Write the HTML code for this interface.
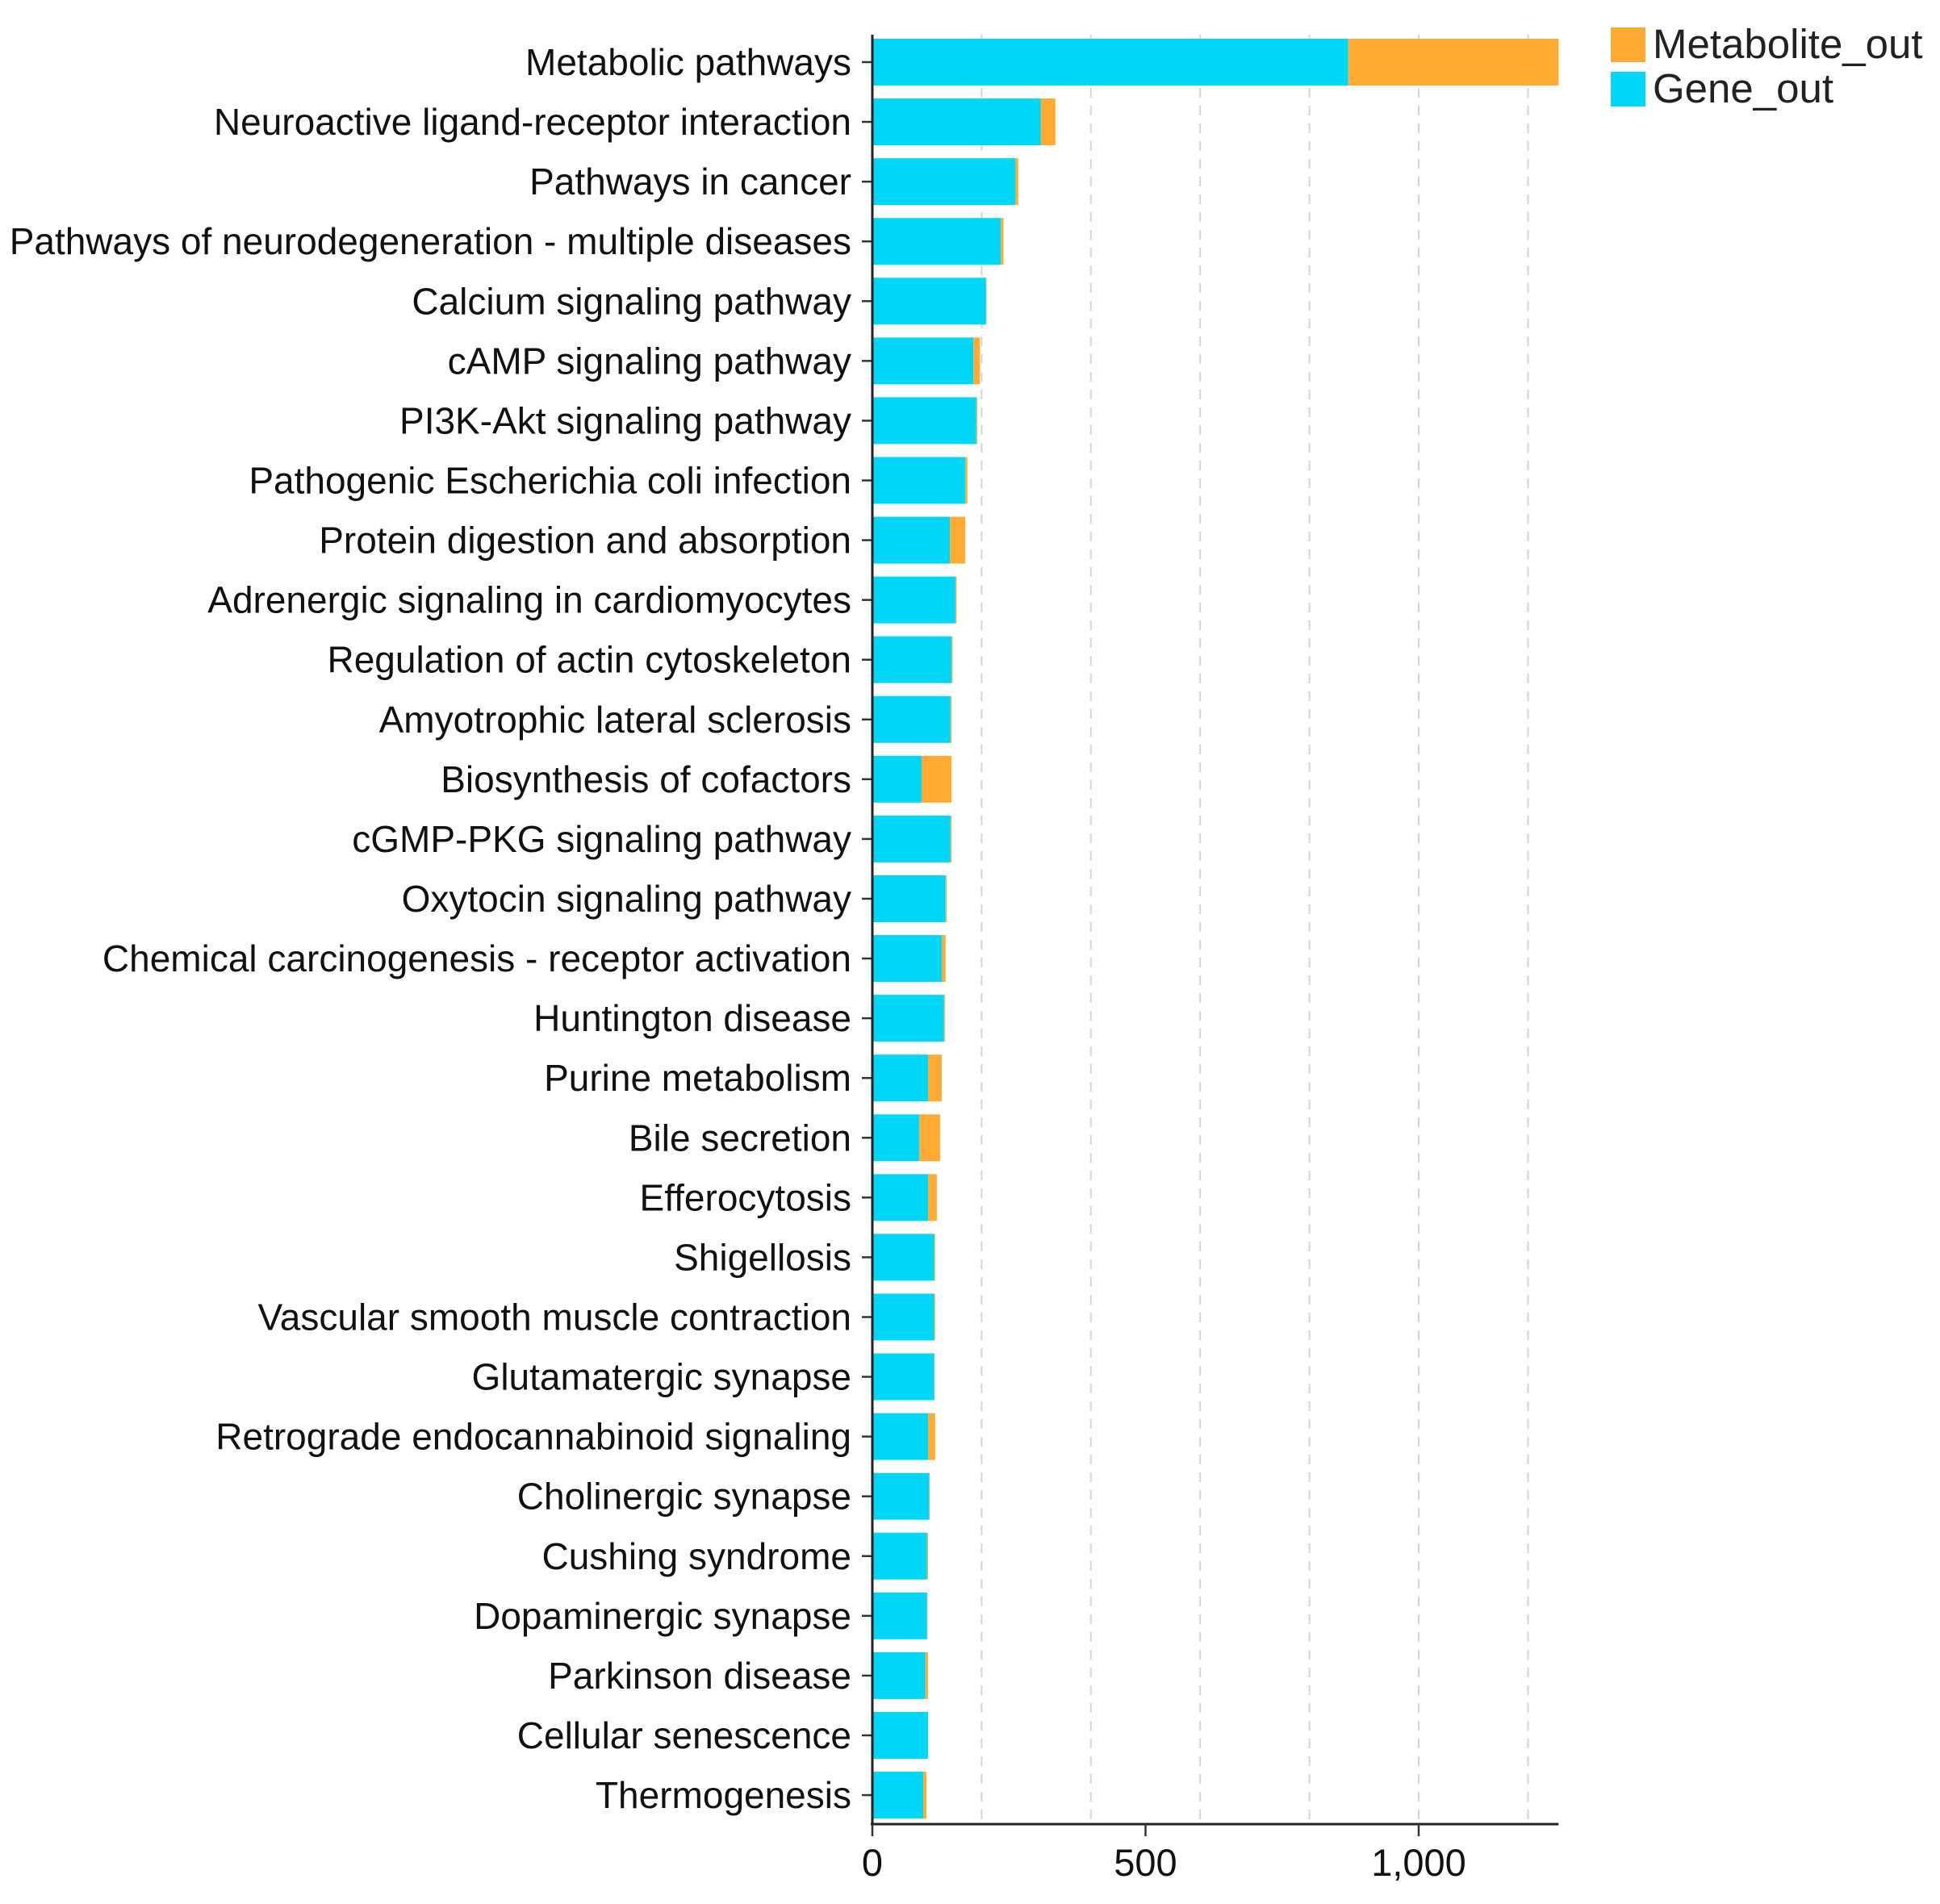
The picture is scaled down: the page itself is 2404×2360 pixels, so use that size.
<!DOCTYPE html>
<html><head><meta charset="utf-8"><style>
html,body{margin:0;padding:0;background:#fff;width:2404px;height:2360px;overflow:hidden}
svg{display:block;font-family:"Liberation Sans",Arial,sans-serif}
</style></head><body>
<svg id="chart" width="2404" height="2360" viewBox="0 0 2404 2360" xmlns="http://www.w3.org/2000/svg"></svg>
<script>
const categories = ["Metabolic pathways","Neuroactive ligand-receptor interaction","Pathways in cancer","Pathways of neurodegeneration - multiple diseases","Calcium signaling pathway","cAMP signaling pathway","PI3K-Akt signaling pathway","Pathogenic Escherichia coli infection","Protein digestion and absorption","Adrenergic signaling in cardiomyocytes","Regulation of actin cytoskeleton","Amyotrophic lateral sclerosis","Biosynthesis of cofactors","cGMP-PKG signaling pathway","Oxytocin signaling pathway","Chemical carcinogenesis - receptor activation","Huntington disease","Purine metabolism","Bile secretion","Efferocytosis","Shigellosis","Vascular smooth muscle contraction","Glutamatergic synapse","Retrograde endocannabinoid signaling","Cholinergic synapse","Cushing syndrome","Dopaminergic synapse","Parkinson disease","Cellular senescence","Thermogenesis"];
const geneOut = [871,308,262,235,208,185,190,170,142,152,145,143,90,143,134,127,131,102,86,102,113,113,113,102,104,100,100,97,102,93];
const metaboliteOut = [385,27,5,5,1,12,2,4,28,2,2,2,55,2,2,7,2,25,38,16,2,2,1,13,1,2,1,5,0,6];
const xTicks = [0,500,1000];
const xTickLabels = ["0","500","1,000"];
const gridVals = [200,400,600,800,1000,1200];

const NS="http://www.w3.org/2000/svg";
const svg=document.getElementById('chart');
const X0=1081, PXU=0.677, XMAX=1256, YTOP=43, YAX=2261, C0=77, PITCH=74.07, BH=58;
const xs=v=>X0+v*PXU;
const yc=i=>C0+i*PITCH;
function mk(t,a){const e=document.createElementNS(NS,t);for(const k in a)e.setAttribute(k,a[k]);svg.appendChild(e);return e;}

gridVals.forEach(v=>{
  const g=mk('line',{x1:xs(v),x2:xs(v),y1:YTOP,y2:YAX,stroke:'#d4d4d4','stroke-width':2,'stroke-dasharray':'12,10'});
  
  
});

categories.forEach((c,i)=>{
  const y=yc(i);
  const r1=mk('rect',{x:X0,y:y-BH/2,width:geneOut[i]*PXU,height:BH,fill:'#00D7F8'});
  
  
  const r2=mk('rect',{x:xs(geneOut[i]),y:y-BH/2,width:metaboliteOut[i]*PXU,height:BH,fill:'#FFAB33'});
  
  
  const tk=mk('line',{x1:X0-13,x2:X0,y1:y,y2:y,stroke:'#333','stroke-width':2.5});
  
  
  const t=mk('text',{x:1055,y:y+16,'text-anchor':'end','font-size':46,fill:'#111'});
  t.textContent=c;
  
  
});

const ya=mk('line',{x1:X0,x2:X0,y1:YTOP,y2:YAX,stroke:'#222','stroke-width':3});


const xa=mk('line',{x1:X0-2,x2:xs(XMAX),y1:YAX,y2:YAX,stroke:'#222','stroke-width':3});



xTicks.forEach((v,i)=>{
  const l=mk('line',{x1:xs(v),x2:xs(v),y1:YAX,y2:YAX+15,stroke:'#333','stroke-width':2.5});
  
  
  const t=mk('text',{x:xs(v),y:2325,'text-anchor':'middle','font-size':47,fill:'#111'});
  t.textContent=xTickLabels[i];
  
  
});

const legend=[["Metabolite_out","#FFAB33",34],["Gene_out","#00D7F8",89]];
legend.forEach(([lab,col,y])=>{
  const r=mk('rect',{x:1996,y:y,width:43,height:43,fill:col});
  
  
  const t=mk('text',{x:2048,y:y+38,'font-size':51,fill:'#222'});
  t.textContent=lab;
  
  
});
</script>
</body></html>
